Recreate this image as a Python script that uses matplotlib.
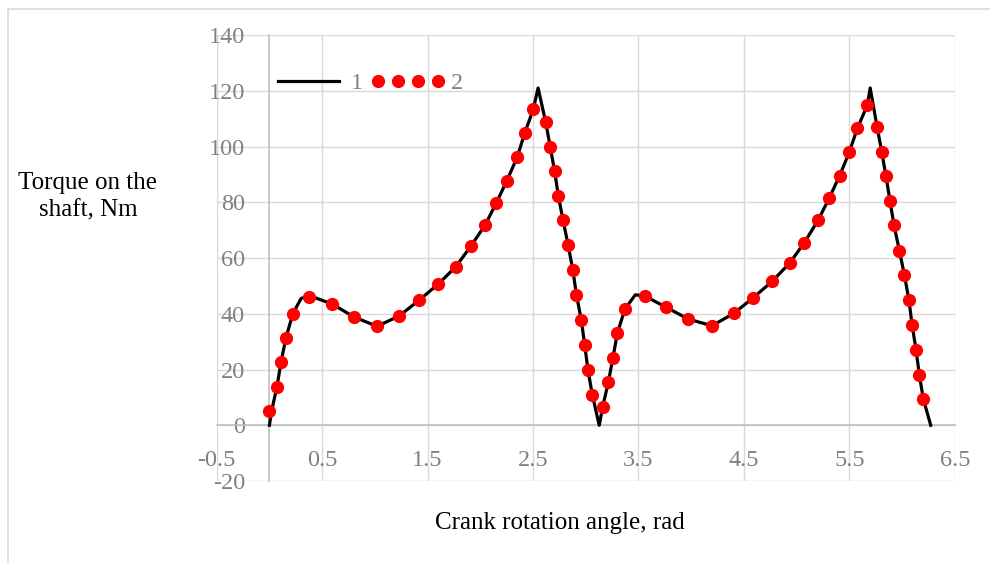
import numpy as np
import matplotlib
matplotlib.use("Agg")
import matplotlib.pyplot as plt
from matplotlib.patches import Rectangle

# series 1: black curve
line_x = [0.0, 0.02, 0.07, 0.11, 0.156, 0.222, 0.30, 0.38, 0.595, 0.80, 1.02,
          1.23, 1.42, 1.60, 1.768, 1.911, 2.047, 2.153, 2.253, 2.35, 2.423,
          2.502, 2.548, 2.62, 2.663, 2.705, 2.741, 2.785, 2.834, 2.878, 2.912,
          2.958, 2.99, 3.021, 3.062, 3.128, 3.16, 3.214, 3.258, 3.30, 3.372,
          3.47, 3.559, 3.764, 3.973, 4.197, 4.403, 4.59, 4.767, 4.937, 5.073,
          5.203, 5.308, 5.409, 5.50, 5.576, 5.671, 5.698, 5.763, 5.807, 5.848,
          5.886, 5.924, 5.975, 6.023, 6.065, 6.095, 6.133, 6.164, 6.202, 6.272]
line_y = [0.0, 5.0, 13.6, 22.6, 31.3, 40.0, 45.5, 46.5, 43.5, 38.9, 35.5,
          39.2, 44.9, 50.6, 56.9, 64.3, 71.9, 79.9, 87.8, 96.2, 105.0,
          113.3, 121.0, 108.8, 99.9, 91.1, 82.1, 73.5, 64.5, 55.6, 46.8,
          37.7, 28.9, 19.9, 11.0, 0.0, 6.5, 15.4, 24.2, 33.1, 41.7,
          46.8, 46.4, 42.3, 38.1, 35.7, 40.1, 45.8, 51.6, 58.3, 65.5,
          73.5, 81.4, 89.6, 98.0, 106.5, 114.9, 121.0, 107.1, 98.2, 89.3,
          80.4, 71.7, 62.6, 53.8, 45.0, 36.1, 27.0, 18.1, 9.4, 0.0]

# series 2: red points
dot_x = [0.0, 0.07, 0.11, 0.156, 0.222, 0.38, 0.595, 0.80, 1.02, 1.23, 1.42,
         1.60, 1.768, 1.911, 2.047, 2.153, 2.253, 2.35, 2.423, 2.502, 2.62,
         2.663, 2.705, 2.741, 2.785, 2.834, 2.878, 2.912, 2.958, 2.99, 3.021,
         3.062, 3.16, 3.214, 3.258, 3.30, 3.372, 3.559, 3.764, 3.973, 4.197,
         4.403, 4.59, 4.767, 4.937, 5.073, 5.203, 5.308, 5.409, 5.50, 5.576,
         5.671, 5.763, 5.807, 5.848, 5.886, 5.924, 5.975, 6.023, 6.065, 6.095,
         6.133, 6.164, 6.202]
dot_y = [5.0, 13.6, 22.6, 31.3, 40.0, 46.0, 43.5, 38.9, 35.5, 39.2, 44.9,
         50.6, 56.9, 64.3, 71.9, 79.9, 87.8, 96.2, 105.0, 113.3, 108.8,
         99.9, 91.1, 82.1, 73.5, 64.5, 55.6, 46.8, 37.7, 28.9, 19.9,
         11.0, 6.5, 15.4, 24.2, 33.1, 41.7, 46.4, 42.3, 38.1, 35.7,
         40.1, 45.8, 51.6, 58.3, 65.5, 73.5, 81.4, 89.6, 98.0, 106.5,
         114.9, 107.1, 98.2, 89.3, 80.4, 71.7, 62.6, 53.8, 45.0, 36.1,
         27.0, 18.1, 9.4]

x_ticks = [-0.5, 0.5, 1.5, 2.5, 3.5, 4.5, 5.5, 6.5]
y_ticks = [-20, 0, 20, 40, 60, 80, 100, 120, 140]

plt.rcParams["font.family"] = ["Liberation Serif", "DejaVu Serif"]
plt.rcParams["axes.unicode_minus"] = False
tick_color = "#808080"
fs = 17.5

fig = plt.figure(figsize=(9.9, 5.63), dpi=100)
fig.patches.append(Rectangle((8 / 990, -0.1), 2, (563 - 9) / 563 + 0.1,
                             transform=fig.transFigure, fill=False,
                             edgecolor="#d9d9d9", linewidth=1.2))
ax = fig.add_axes([0.2189, 0.1456, 0.7455, 0.7922])

ax.plot(line_x, line_y, color="black", linewidth=2.3, label="1", zorder=3)
ax.plot(dot_x, dot_y, linestyle="none", marker="o", markersize=8.5,
        color="#ff0000", label="2", zorder=4)

ax.set_xlim(-0.5, 6.5)
ax.set_ylim(-20, 140)
ax.set_xticks(x_ticks)
ax.set_xticklabels([f"{v:g}" for v in x_ticks])
ax.set_yticks(y_ticks)

ax.grid(True, color="#d9d9d9", linewidth=1.0, zorder=0)
ax.set_axisbelow(True)
for s in ["top", "right"]:
    ax.spines[s].set_visible(False)
ax.spines["left"].set_position(("data", 0))
ax.spines["bottom"].set_position(("data", 0))
for s in ["left", "bottom"]:
    ax.spines[s].set_color("#bfbfbf")
    ax.spines[s].set_linewidth(1.2)
ax.tick_params(axis="y", length=0, pad=17.5, labelsize=fs, labelcolor=tick_color)
ax.tick_params(axis="x", length=0, pad=18, labelsize=fs, labelcolor=tick_color)

ax.legend(loc="center left", bbox_to_anchor=(0.073, 0.892), ncol=2,
          frameon=False, numpoints=4, handlelength=3.1, handletextpad=0.2,
          columnspacing=0.3, borderpad=0, borderaxespad=0,
          fontsize=fs, labelcolor=tick_color)

fig.text(88 / 990, 1 - 197 / 563, "Torque on the\nshaft, Nm", ha="center",
         va="center", multialignment="center", fontsize=18, color="black",
         linespacing=1.3)
fig.text(560 / 990, 1 - 523 / 563, "Crank rotation angle, rad", ha="center",
         va="center", fontsize=18, color="black")

fig.savefig("out.png", dpi=100)
